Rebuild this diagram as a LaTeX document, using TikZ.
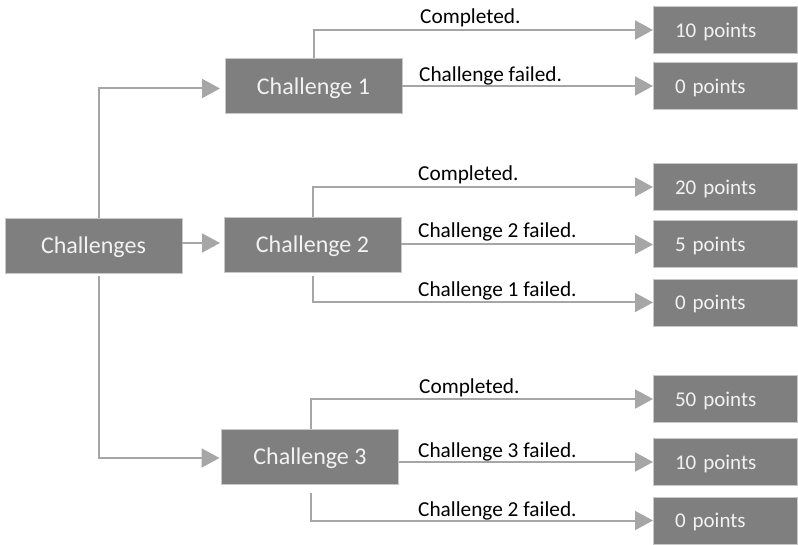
\documentclass[tikz,border=0pt]{standalone}
\usepackage{fontspec}
\setmainfont{Carlito}
\usetikzlibrary{arrows.meta}
\definecolor{boxfill}{HTML}{7F7F7F}
\definecolor{boxedge}{HTML}{C8C8C8}
\definecolor{wire}{HTML}{A6A6A6}
\definecolor{boxtext}{HTML}{F2F2F2}
\tikzset{
  chbox/.style={rectangle, fill=boxfill, draw=boxedge, line width=0.8pt,
    minimum width=177pt, minimum height=55pt, inner sep=0pt, outer sep=0pt,
    text depth=0pt, text=boxtext, font=\fontsize{24}{28}\selectfont},
  ptbox/.style={rectangle, fill=boxfill, draw=boxedge, line width=0.8pt,
    minimum height=47pt, inner xsep=22pt, inner ysep=0pt, outer sep=0pt,
    text width=100pt, align=left, text depth=0pt,
    text=boxtext, font=\fontsize{21}{25}\selectfont},
  wirel/.style={draw=wire, line width=2pt},
  wirea/.style={wirel, -{Triangle[length=18pt,width=19pt]}},
  lbl/.style={anchor=base west, inner sep=0pt, text=black,
    font=\fontsize{21.3}{25}\selectfont},
}
\begin{document}
\begin{tikzpicture}[x=1pt,y=-1pt]
\useasboundingbox (0,0) rectangle (798,545);

% root and the three challenges
\node[chbox] (root) at (93.5,245.5) {Challenges};
\node[chbox] (c1) at (313.5,86) {Challenge 1};
\node[chbox] (c2) at (312.5,244.5) {Challenge 2};
\node[chbox] (c3) at (310,456.5) {Challenge 3};

% outcomes
\node[ptbox] (p1a) at (725,30) {10 points};
\node[ptbox] (p1b) at (725,86) {0 points};
\node[ptbox] (p2a) at (725,187) {20 points};
\node[ptbox] (p2b) at (725,244) {5 points};
\node[ptbox] (p2c) at (725,302.5) {0 points};
\node[ptbox] (p3a) at (725,399) {50 points};
\node[ptbox] (p3b) at (725,462) {10 points};
\node[ptbox] (p3c) at (725,520.5) {0 points};

% root to challenges
\coordinate (rt) at ([xshift=5pt]root.north);
\coordinate (rb) at ([xshift=5pt,yshift=-3pt]root.south);
\coordinate (c1w) at ([xshift=-5pt,yshift=-2.5pt]c1.west);
\coordinate (c2w) at ([xshift=-4pt,yshift=1.5pt]c2.west);
\coordinate (c3w) at ([xshift=-2pt,yshift=-1.5pt]c3.west);
\draw[wirea] (rt) |- (c1w);
\draw[wirea] (root.east |- c2w) -- (c2w);
\draw[wirea] (rb) |- (c3w);

% challenge 1 branches
\draw[wirea] (c1.north) |- (p1a.west);
\draw[wirea] (c1.east) -- (c1.east -| p1b.west);

% challenge 2 branches
\coordinate (c2b) at ([yshift=-4pt]c2.south);
\draw[wirea] (c2.north) |- (p2a.west);
\draw[wirea] (c2.east) -- (c2.east -| p2b.west);
\draw[wirea] (c2b) |- (p2c.west);

% challenge 3 branches
\coordinate (c3e) at ([yshift=-5.5pt]c3.east);
\coordinate (c3n) at ([xshift=1pt]c3.north);
\coordinate (c3b) at ([xshift=1pt,yshift=-9pt]c3.south);
\draw[wirea] (c3n) |- (p3a.west);
\draw[wirea] (c3e) -- (c3e -| p3b.west);
\draw[wirea] (c3b) |- (p3c.west);

% branch captions
\node[lbl] (l1a) at (420,23.5) {Completed.};
\node[lbl] (l1b) at (419,81.5) {Challenge failed.};
\node[lbl] (l2a) at (418,180.5) {Completed.};
\node[lbl] (l2b) at (418,237.5) {Challenge 2 failed.};
\node[lbl] (l2c) at (418,296.5) {Challenge 1 failed.};
\node[lbl] (l3a) at (419,393) {Completed.};
\node[lbl] (l3b) at (418,457) {Challenge 3 failed.};
\node[lbl] (l3c) at (418,516.5) {Challenge 2 failed.};
\end{tikzpicture}
\end{document}
